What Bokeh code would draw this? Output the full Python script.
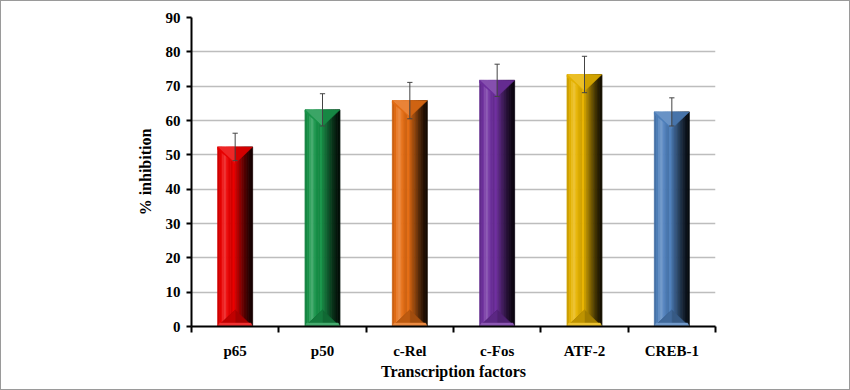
from bokeh.plotting import figure
from bokeh.models import Range1d, FixedTicker
from bokeh.embed import file_html
from bokeh.resources import INLINE

# ---- data ----
factors = ["p65", "p50", "c-Rel", "c-Fos", "ATF-2", "CREB-1"]
inhibition = [52.3, 63.1, 65.8, 71.7, 73.4, 62.5]
error = [4.0, 4.7, 5.3, 4.7, 5.3, 4.1]
y_ticks = [0, 10, 20, 30, 40, 50, 60, 70, 80, 90]
base_colors = [(235, 0, 0), (25, 150, 75), (230, 110, 20), (112, 48, 160), (232, 180, 0), (79, 129, 189)]

# ---- style ----
BAR_HALF = 0.2
TRI_DEPTH = 4.8
shade = [0.88, 0.97, 1.05, 1.08, 1.02, 0.95, 0.9, 1.0, 0.85, 0.72, 0.6, 0.48, 0.36, 0.26, 0.17, 0.1]
FONT = "Liberation Serif"


def col(rgb, f):
    if f <= 1:
        c = [int(max(0, min(255, v * f))) for v in rgb]
    else:
        t = f - 1
        c = [int(v + (255 - v) * t * 2.5) for v in rgb]
        c = [max(0, min(255, v)) for v in c]
    return "#%02x%02x%02x" % tuple(c)


p = figure(width=850, height=390, output_backend="svg", toolbar_location=None,
           x_range=Range1d(0, 6), y_range=Range1d(0, 90),
           min_border_left=190, min_border_right=136, min_border_top=16, min_border_bottom=65)
p.outline_line_color = None
p.background_fill_color = "white"
p.border_fill_color = "white"
p.styles = {"border": "1px solid #9a9a9a", "box-sizing": "border-box"}

centers = [i + 0.5 for i in range(len(factors))]

# gradient strips
lefts, rights, tops, colors = [], [], [], []
n = len(shade)
for c, v, rgb in zip(centers, inhibition, base_colors):
    w = 2 * BAR_HALF / n
    for k, f in enumerate(shade):
        lefts.append(c - BAR_HALF + k * w)
        rights.append(c - BAR_HALF + (k + 1) * w)
        tops.append(v)
        colors.append(col(rgb, f))
p.quad(left=lefts, right=rights, bottom=[0] * len(lefts), top=tops,
       fill_color=colors, line_color=colors, line_width=0.8)

# top bevel triangles and bottom bevel triangles
txs, tys, tcs = [], [], []
for c, v, rgb in zip(centers, inhibition, base_colors):
    l, r = c - BAR_HALF, c + BAR_HALF
    txs.append([l, c, c]); tys.append([v, v, v - TRI_DEPTH]); tcs.append(col(rgb, 1.06))
    txs.append([c, r, c]); tys.append([v, v, v - TRI_DEPTH]); tcs.append(col(rgb, 0.9))
    txs.append([l, c, l]); tys.append([v, v - TRI_DEPTH, v - TRI_DEPTH * 0.15]); tcs.append(col(rgb, 0.98))
    txs.append([l, r, c]); tys.append([0, 0, TRI_DEPTH]); tcs.append(col(rgb, 0.7))
    txs.append([l, c, c]); tys.append([0, 0, TRI_DEPTH]); tcs.append(col(rgb, 0.82))
    txs.append([l, r, r - 0.02, l + 0.02]); tys.append([0, 0, 1.0, 1.0]); tcs.append(col(rgb, 1.08))
p.patches(txs, tys, fill_color=tcs, line_color=tcs, line_width=0.5)

# error bars
lo = [v - e for v, e in zip(inhibition, error)]
hi = [v + e for v, e in zip(inhibition, error)]
ecol = "#444444"
p.segment(x0=centers, y0=lo, x1=centers, y1=hi, line_color=ecol, line_width=1)
p.segment(x0=[c - 0.03 for c in centers], y0=hi, x1=[c + 0.03 for c in centers], y1=hi,
          line_color=ecol, line_width=1)
p.segment(x0=[c - 0.03 for c in centers], y0=lo, x1=[c + 0.03 for c in centers], y1=lo,
          line_color=ecol, line_width=1)

# grid
p.xgrid.grid_line_color = None
p.ygrid.grid_line_color = "#bdbdbd"
p.ygrid.grid_line_width = 1.5
p.ygrid.level = "underlay"
p.ygrid.ticker = FixedTicker(ticks=y_ticks)

# y axis
p.yaxis.ticker = FixedTicker(ticks=y_ticks)
p.yaxis.axis_line_color = "black"
p.yaxis.axis_line_width = 2
p.yaxis.major_tick_line_width = 2
p.yaxis.major_tick_in = 0
p.yaxis.major_tick_out = 5
p.yaxis.minor_tick_line_color = None
p.yaxis.major_label_text_font = FONT
p.yaxis.major_label_text_font_style = "bold"
p.yaxis.major_label_text_font_size = "15px"
p.yaxis.major_label_text_color = "black"
p.yaxis.major_label_standoff = 6
p.yaxis.axis_label = "% inhibition"
p.yaxis.axis_label_text_font = FONT
p.yaxis.axis_label_text_font_style = "bold"
p.yaxis.axis_label_text_font_size = "16px"
p.yaxis.axis_label_text_color = "black"
p.yaxis.axis_label_standoff = 9

# x axis
p.xaxis.ticker = FixedTicker(ticks=centers, minor_ticks=list(range(len(factors) + 1)))
p.xaxis.major_label_overrides = {c: f for c, f in zip(centers, factors)}
p.xaxis.major_tick_line_color = None
p.xaxis.minor_tick_line_color = "black"
p.xaxis.minor_tick_line_width = 2
p.xaxis.minor_tick_in = 0
p.xaxis.minor_tick_out = 6
p.xaxis.axis_line_color = "black"
p.xaxis.axis_line_width = 2
p.xaxis.major_label_text_font = FONT
p.xaxis.major_label_text_font_style = "bold"
p.xaxis.major_label_text_font_size = "15px"
p.xaxis.major_label_text_color = "black"
p.xaxis.major_label_standoff = 10
p.xaxis.axis_label = "Transcription factors"
p.xaxis.axis_label_text_font = FONT
p.xaxis.axis_label_text_font_style = "bold"
p.xaxis.axis_label_text_font_size = "16px"
p.xaxis.axis_label_text_color = "black"
p.xaxis.axis_label_standoff = 1

open("out.html", "w").write(file_html(p, INLINE))
